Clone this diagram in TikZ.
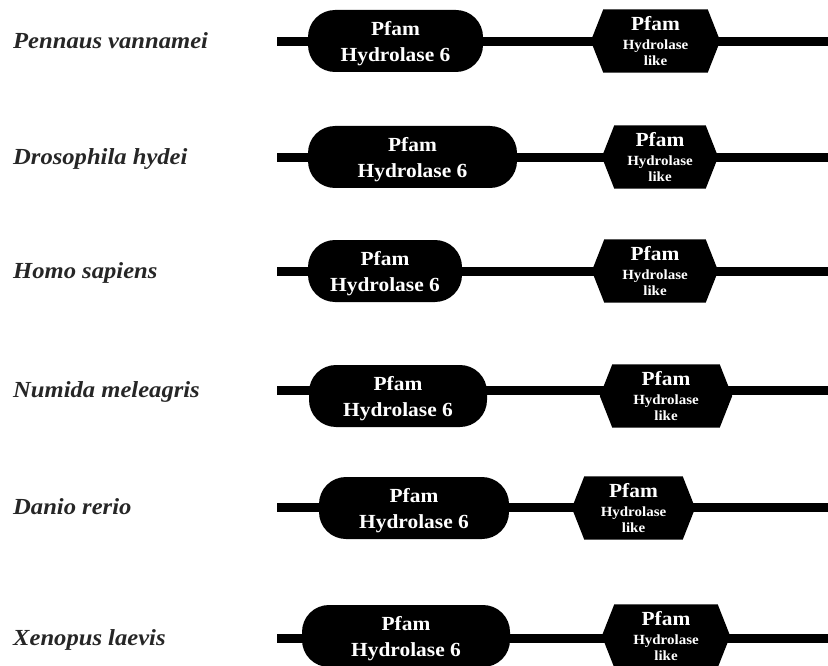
\documentclass[tikz,border=0pt]{standalone}
\usepackage{fontspec}
\setmainfont{Liberation Serif}[FakeStretch=1.07]
\usetikzlibrary{backgrounds}

\begin{document}
\begin{tikzpicture}[x=1pt,y=-1pt,
  backbone/.style={line width=9pt,black},
  species/.style={anchor=base west,inner sep=0pt,text=black!85,
    font=\fontsize{23}{27}\selectfont\bfseries\itshape},
  capbox/.style={fill=black,text=white,rounded corners=27pt,align=center,
    inner sep=0pt,minimum height=62pt,font=\fontsize{20}{25.5}\selectfont\bfseries},
  % hexagon text box: only the flat top/bottom part, the points are filled behind it
  hexbox/.style={text=white,align=center,inner sep=0pt,minimum height=63pt,
    font=\fontsize{14}{16}\selectfont\bfseries},
  hexfill/.style={fill=black}
]
\useasboundingbox (0,0) rectangle (828,666);

% ---- one row per species: name, backbone, Hydrolase 6 and Hydrolase like domains ----
\foreach \n/\name/\ly/\by/\cx/\cw/\hx/\hw in {%
    1/{Pennaus vannamei}/42/41/395.5/175/655.5/129,
    2/{Drosophila hydei}/158/157/412.5/209/660/116,
    3/{Homo sapiens}/271/271/385/154/655/126,
    4/{Numida meleagris}/390/396/398/178/666/132,
    5/{Danio rerio}/507/508/414/190/633.5/123,
    6/{Xenopus laevis}/638/636/406/208/666/128}
{
  \node[species] (sp\n) at (13,\ly+7) {\name};
  \coordinate (start\n) at (277,\ly);
  \coordinate (end\n) at (828,\ly);
  \draw[backbone] (start\n) -- (end\n);
  \node[capbox,minimum width=\cw pt] (hyd\n) at (\cx,\by)
    {\rule{0pt}{19pt}Pfam\\Hydrolase 6};
  \node[hexbox,minimum width=\hw pt-25pt] (like\n) at (\hx,\by)
    {{\fontsize{20}{20}\selectfont Pfam}\\[3pt]Hydrolase\\like};
  \begin{scope}[on background layer]
    \fill[hexfill] (like\n.north west) -- (like\n.north east)
      -- ([xshift=12.5pt]like\n.east) -- (like\n.south east)
      -- (like\n.south west) -- ([xshift=-12.5pt]like\n.west) -- cycle;
  \end{scope}
}
\end{tikzpicture}
\end{document}
